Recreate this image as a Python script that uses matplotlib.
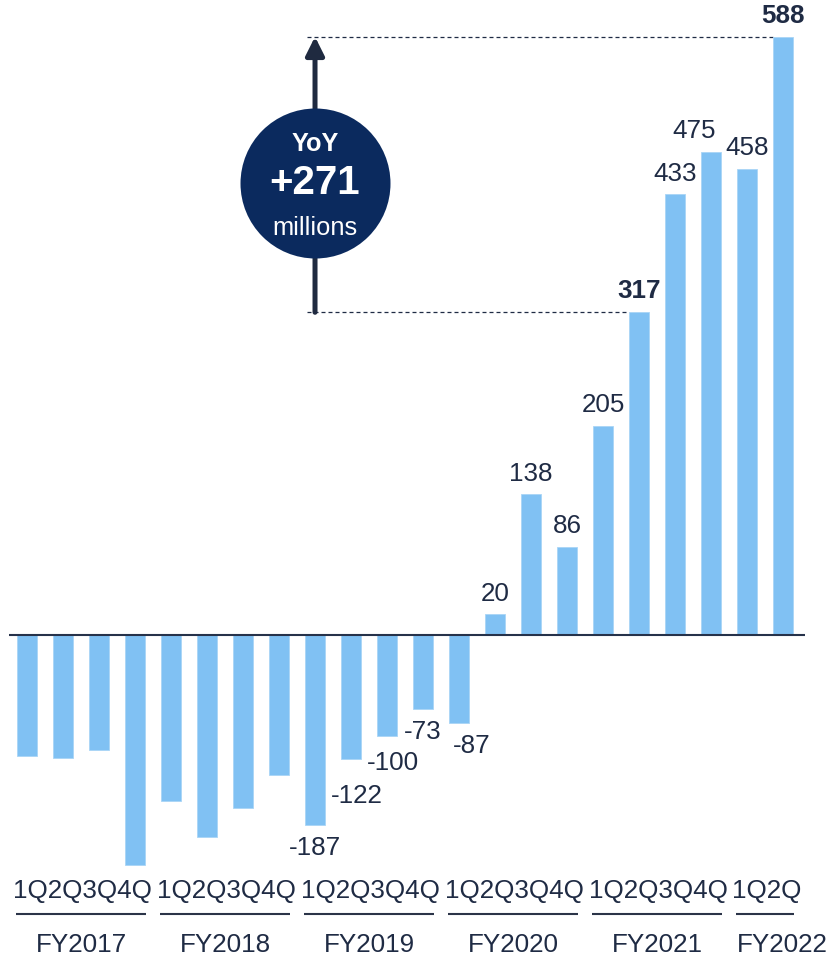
import matplotlib
matplotlib.use("Agg")
import matplotlib.pyplot as plt
import numpy as np

# Quarterly operating result, millions
quarters = ["1Q", "2Q", "3Q", "4Q"] * 5 + ["1Q", "2Q"]
values = [-119, -121, -113, -226,
          -164, -199, -170, -138,
          -187, -122, -100, -73,
          -87, 20, 138, 86,
          205, 317, 433, 475,
          458, 588]
fiscal_years = ["FY2017", "FY2018", "FY2019", "FY2020", "FY2021", "FY2022"]
year_sizes = [4, 4, 4, 4, 4, 2]
first_labelled = 8          # values are printed from FY2019 1Q onward
bold_labels = [17, 21]      # 2Q FY2021 and 2Q FY2022

BAR = "#80C1F3"
INK = "#1F2B44"
NAVY = "#0B2A5E"
FS = 18.7

# small nudges (points) for labels that sit off-centre
label_nudge = {9: (4, -10), 10: (4, -3), 12: (9, 0), 19: (-12, 0)}

plt.rcParams["font.family"] = ["Liberation Sans", "DejaVu Sans"]

fig = plt.figure(figsize=(8.34, 9.61), dpi=100)
ax = fig.add_axes([9 / 834, 91 / 961, 796 / 834, 870 / 961])

x = np.arange(len(values))
w = 0.55
ax.bar(x, values, width=w, color=BAR, edgecolor="#A9D5F6", linewidth=0.6, zorder=2)
ax.axhline(0, color="#26324A", lw=1.5, zorder=3)

ax.set_xlim(-0.5, 21.61)
ax.set_ylim(-231.4, 624.1)
ax.axis("off")

# value labels
for i in range(first_labelled, len(values)):
    v = values[i]
    dx, dy = label_nudge.get(i, (0, 0))
    off = 15 if v > 0 else -16.5
    ax.annotate(str(v), (x[i], v), xytext=(dx, off + dy), textcoords="offset points",
                ha="center", va="center", fontsize=FS, color=INK,
                fontweight="bold" if i in bold_labels else "normal")

# quarter names, year underlines and year names
start = 0
for name, n in zip(fiscal_years, year_sizes):
    mid = start + (n - 1) / 2
    half = (n - 0.4) / 2
    ax.text(mid + 0.05, -252, "".join(quarters[start:start + n]), ha="center", va="center",
            fontsize=FS, color=INK, clip_on=False)
    ax.plot([mid - half, mid + half], [-274.6, -274.6], color="#2B3448", lw=1.5,
            solid_capstyle="butt", clip_on=False)
    shift = 0.47 if n == 2 else 0
    ax.text(mid + shift, -305, name, ha="center", va="center", fontsize=FS,
            color=INK, clip_on=False)
    start += n

# year-over-year callout between 2Q FY2021 and 2Q FY2022
lo, hi = values[17], values[21]
ax_x = x[first_labelled]
ax.plot([ax_x - 0.22, x[17] - w / 2], [lo, lo], color=INK, lw=0.9, dashes=(3.2, 2.4), zorder=1)
ax.plot([ax_x - 0.22, x[21] - w / 2], [hi, hi], color=INK, lw=0.9, dashes=(3.2, 2.4), zorder=1)
ax.annotate("", xy=(ax_x, hi), xytext=(ax_x, lo),
            arrowprops=dict(arrowstyle="-|>,head_length=1.1,head_width=0.55",
                            color="#1F2A40", lw=3.6, shrinkA=0, shrinkB=0), zorder=4)

cy = 444
ax.scatter([ax_x], [cy], s=108 ** 2, color=NAVY, zorder=5, linewidths=0)
ax.annotate("YoY", (ax_x, cy), xytext=(0, 28), textcoords="offset points", ha="center",
            va="center", fontsize=18.2, fontweight="bold", color="white", zorder=6)
ax.annotate(f"+{hi - lo}", (ax_x, cy), xytext=(0, 0), textcoords="offset points",
            ha="center", va="center", fontsize=29, fontweight="bold", color="white", zorder=6)
ax.annotate("millions", (ax_x, cy), xytext=(0, -32.5), textcoords="offset points",
            ha="center", va="center", fontsize=18.4, color="white", zorder=6)

fig.savefig("out.png", dpi=100)
